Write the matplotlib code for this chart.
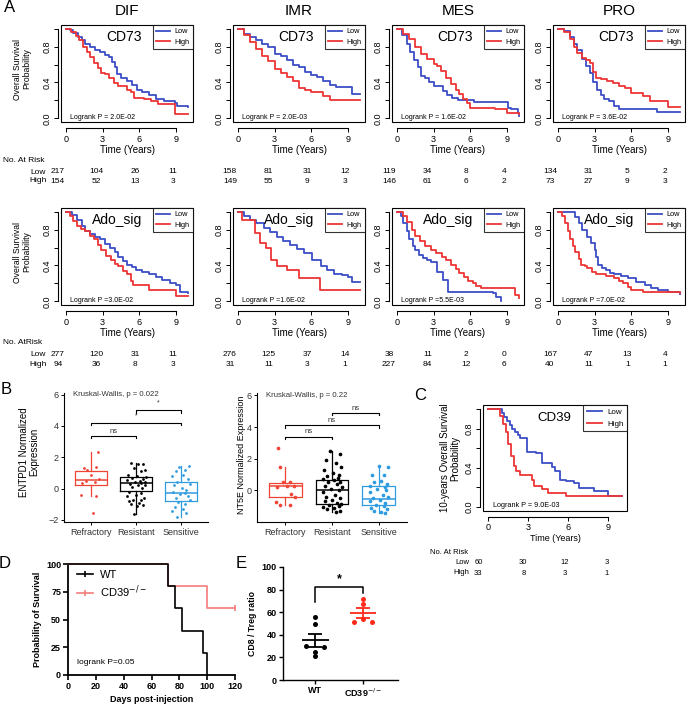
import matplotlib
matplotlib.use('Agg')
import matplotlib.pyplot as plt
import matplotlib.transforms as mtransforms
from matplotlib.patches import Rectangle
from matplotlib.lines import Line2D
import numpy as np

plt.rcParams['font.family'] = ['Liberation Sans', 'DejaVu Sans']
plt.rcParams['axes.linewidth'] = 0.8

W, H = 687, 705
BLUE = '#3C4EC6'
RED = '#EE3535'
SALMON = '#F47C7C'
E_RED = '#FF2A1A'

# ---------------- Panel A: KM curves, (years, survival) breakpoints ----------------
subtypes = ['DIF', 'IMR', 'MES', 'PRO']
risk_times = [0, 3, 6, 9]

dif_cd73_low = [(0, 1.0), (0.3, 0.98), (0.6, 0.95), (1.0, 0.91), (1.3, 0.87), (1.6, 0.83), (2.0, 0.79),
                (2.4, 0.76), (2.8, 0.74), (3.2, 0.71), (3.5, 0.68), (3.8, 0.63), (4.0, 0.57), (4.2, 0.49),
                (4.5, 0.45), (5.0, 0.42), (5.4, 0.37), (5.8, 0.32), (6.2, 0.29), (6.8, 0.26), (7.4, 0.22),
                (8.0, 0.19), (8.9, 0.175), (9.1, 0.14), (10, 0.13)]
dif_cd73_high = [(0, 1.0), (0.4, 0.96), (0.8, 0.92), (1.1, 0.87), (1.4, 0.80), (1.7, 0.74), (2.0, 0.68),
                 (2.3, 0.62), (2.6, 0.56), (2.9, 0.51), (3.2, 0.49), (3.5, 0.45), (3.9, 0.39), (4.3, 0.36),
                 (5.0, 0.32), (5.3, 0.29), (5.6, 0.23), (6.4, 0.22), (7.0, 0.19), (7.5, 0.165),
                 (8.8, 0.155), (8.9, 0.05), (10, 0.05)]
imr_cd73_low = [(0, 1.0), (0.5, 0.94), (1.0, 0.91), (1.5, 0.87), (2.0, 0.83), (2.5, 0.80), (3.0, 0.72),
                (3.5, 0.69), (4.0, 0.65), (4.5, 0.60), (5.0, 0.57), (5.5, 0.52), (6.0, 0.48), (6.5, 0.46),
                (7.0, 0.42), (7.5, 0.37), (8.0, 0.35), (9.2, 0.35), (9.3, 0.27), (10, 0.27)]
imr_cd73_high = [(0, 1.0), (0.5, 0.93), (1.0, 0.85), (1.5, 0.77), (2.0, 0.70), (2.5, 0.64), (3.0, 0.55),
                 (3.5, 0.51), (4.0, 0.46), (4.5, 0.42), (5.0, 0.34), (5.5, 0.32), (6.0, 0.29), (7.0, 0.25),
                 (7.5, 0.20), (10, 0.20)]
mes_cd73_low = [(0, 1.0), (0.4, 0.93), (0.8, 0.83), (1.1, 0.74), (1.4, 0.65), (1.7, 0.57), (2.0, 0.47),
                (2.3, 0.45), (2.6, 0.41), (3.0, 0.36), (3.5, 0.36), (3.8, 0.31), (4.1, 0.26), (4.5, 0.23),
                (5.0, 0.21), (6.1, 0.21), (6.3, 0.18), (9.0, 0.18), (9.1, 0.12), (9.3, 0.10), (9.9, 0.06),
                (10, 0.03)]
mes_cd73_high = [(0, 1.0), (0.5, 0.94), (1.0, 0.88), (1.5, 0.79), (2.0, 0.72), (2.5, 0.66), (3.0, 0.61),
                 (3.3, 0.58), (3.6, 0.53), (4.0, 0.45), (4.4, 0.38), (4.8, 0.32), (5.1, 0.27), (5.4, 0.22),
                 (5.7, 0.17), (6.0, 0.12), (8.0, 0.11), (9.0, 0.06), (10, 0.05)]
pro_cd73_low = [(0, 1.0), (0.5, 0.975), (1.0, 0.91), (1.3, 0.83), (1.6, 0.76), (2.0, 0.66), (2.3, 0.58),
                (2.6, 0.50), (2.9, 0.41), (3.2, 0.32), (3.5, 0.26), (3.8, 0.22), (4.2, 0.19), (4.6, 0.14),
                (5.0, 0.11), (5.5, 0.10), (8.0, 0.10), (8.1, 0.07), (10, 0.07)]
pro_cd73_high = [(0, 1.0), (0.5, 0.96), (1.0, 0.88), (1.3, 0.80), (1.6, 0.73), (2.0, 0.67), (2.3, 0.65),
                 (2.6, 0.62), (2.9, 0.52), (3.1, 0.45), (3.5, 0.44), (4.0, 0.42), (4.5, 0.39), (5.0, 0.36),
                 (5.5, 0.34), (6.0, 0.28), (7.0, 0.25), (7.5, 0.19), (9.0, 0.13), (10, 0.13)]

dif_ado_low = [(0, 1.0), (0.5, 0.96), (0.9, 0.91), (1.3, 0.84), (1.6, 0.78), (2.0, 0.75), (2.4, 0.72),
               (2.8, 0.69), (3.2, 0.64), (3.6, 0.59), (4.0, 0.55), (4.3, 0.50), (4.7, 0.45), (5.0, 0.41),
               (5.4, 0.38), (5.7, 0.35), (6.2, 0.33), (6.8, 0.30), (7.4, 0.27), (7.9, 0.24), (8.5, 0.21),
               (9.0, 0.18), (9.3, 0.11), (10, 0.09)]
dif_ado_high = [(0, 1.0), (0.3, 0.95), (0.6, 0.90), (0.9, 0.84), (1.2, 0.81), (1.6, 0.78), (2.0, 0.73),
                (2.3, 0.69), (2.6, 0.63), (2.9, 0.57), (3.3, 0.51), (3.7, 0.46), (4.0, 0.42), (4.3, 0.39),
                (4.7, 0.34), (5.0, 0.30), (5.3, 0.23), (5.5, 0.18), (6.4, 0.18), (6.8, 0.13), (9.0, 0.06),
                (10, 0.06)]
imr_ado_low = [(0, 1.0), (0.5, 0.95), (1.0, 0.91), (1.5, 0.87), (2.1, 0.82), (2.6, 0.77), (3.2, 0.72),
               (3.7, 0.67), (4.3, 0.63), (4.8, 0.58), (5.4, 0.54), (6.1, 0.46), (6.8, 0.39), (7.3, 0.35),
               (7.9, 0.31), (8.5, 0.29), (9.0, 0.27), (9.3, 0.22), (10, 0.22)]
imr_ado_high = [(0, 1.0), (0.3, 0.91), (1.2, 0.91), (1.4, 0.76), (1.8, 0.65), (2.3, 0.59), (2.7, 0.46),
                (3.2, 0.39), (4.0, 0.35), (5.0, 0.26), (6.6, 0.26), (6.7, 0.13), (10, 0.13)]
mes_ado_low = [(0, 1.0), (0.3, 0.95), (0.5, 0.87), (0.8, 0.78), (1.0, 0.70), (1.3, 0.62), (1.5, 0.57),
               (1.8, 0.52), (2.1, 0.48), (2.5, 0.46), (2.8, 0.44), (3.3, 0.33), (3.8, 0.24), (4.2, 0.11),
               (6.9, 0.11), (7.9, 0.09), (8.1, 0.05), (8.5, 0.0)]
mes_ado_high = [(0, 1.0), (0.5, 0.95), (0.8, 0.88), (1.2, 0.80), (1.5, 0.73), (1.9, 0.67), (2.3, 0.62),
                (2.8, 0.57), (3.2, 0.54), (3.7, 0.50), (4.0, 0.46), (4.4, 0.41), (4.8, 0.36), (5.1, 0.32),
                (5.5, 0.27), (5.8, 0.23), (6.2, 0.20), (6.5, 0.17), (6.9, 0.15), (9.3, 0.15), (9.7, 0.07),
                (10, 0.04)]
pro_ado_low = [(0, 1.0), (1.0, 0.99), (1.4, 0.94), (1.7, 0.87), (2.0, 0.80), (2.4, 0.72), (2.7, 0.65),
               (3.0, 0.57), (3.15, 0.49), (3.3, 0.41), (3.6, 0.37), (3.9, 0.35), (4.3, 0.32), (4.6, 0.30),
               (5.2, 0.28), (5.7, 0.26), (6.4, 0.22), (7.1, 0.18), (7.6, 0.15), (8.2, 0.13), (9.0, 0.11),
               (10, 0.08)]
pro_ado_high = [(0, 1.0), (0.3, 0.95), (0.6, 0.87), (0.8, 0.78), (1.0, 0.70), (1.2, 0.62), (1.4, 0.55),
                (1.7, 0.47), (1.9, 0.41), (2.2, 0.39), (2.4, 0.37), (2.8, 0.33), (3.1, 0.30), (3.9, 0.28),
                (4.6, 0.26), (5.0, 0.23), (5.3, 0.21), (5.7, 0.16), (6.0, 0.13), (7.0, 0.10), (10, 0.09)]

cd73_curves = [(dif_cd73_low, dif_cd73_high), (imr_cd73_low, imr_cd73_high),
               (mes_cd73_low, mes_cd73_high), (pro_cd73_low, pro_cd73_high)]
ado_curves = [(dif_ado_low, dif_ado_high), (imr_ado_low, imr_ado_high),
              (mes_ado_low, mes_ado_high), (pro_ado_low, pro_ado_high)]
cd73_pvals = ['2.0E-02', '2.0E-03', '1.6E-02', '3.6E-02']
ado_pvals = ['3.0E-02', '1.6E-02', '5.5E-03', '7.0E-02']

cd73_risk_low = [[217, 104, 26, 11], [158, 81, 31, 12], [119, 34, 8, 4], [134, 31, 5, 2]]
cd73_risk_high = [[154, 52, 13, 3], [149, 55, 9, 3], [146, 61, 6, 2], [73, 27, 9, 3]]
ado_risk_low = [[277, 120, 31, 11], [276, 125, 37, 14], [38, 11, 2, 0], [167, 47, 13, 4]]
ado_risk_high = [[94, 36, 8, 3], [31, 11, 3, 1], [227, 84, 12, 6], [40, 11, 1, 1]]

# ---------------- Panel B: expression by response ----------------
b_groups = ['Refractory', 'Resistant', 'Sensitive']
b_colors = ['#EE4537', '#000000', '#2F9BE0']

# box stats: (q1, median, q3, whisker low, whisker high)
entpd1_stats = [(0.2, 0.55, 1.15, -0.5, 2.35), (-0.15, 0.38, 0.75, -1.6, 1.65), (-0.8, -0.3, 0.45, -1.8, 1.45)]
nt5e_stats = [(-0.42, 0.27, 0.48, -0.9, 1.5), (-0.85, 0.0, 0.65, -1.35, 2.5), (-0.9, -0.55, 0.3, -1.4, 1.55)]

entpd1_ref = [2.35, 1.4, 1.3, 1.2, 0.9, 0.6, 0.5, 0.4, 0.35, -0.4, -0.5, -1.55]
entpd1_ref_dx = [0.15, 0.12, -0.15, -0.08, 0.0, 0.18, -0.12, 0.08, -0.2, -0.22, 0.12, 0.05]
entpd1_res = [1.65, 1.6, 1.55, 1.3, 1.2, 1.1, 0.9, 0.8, 0.75, 0.7, 0.6, 0.55, 0.5, 0.45, 0.4, 0.35, 0.3,
              0.25, 0.2, 0.1, 0.05, -0.2, -0.25, -0.4, -0.5, -0.6, -0.7, -0.75, -0.8, -0.9, -1.0, -1.05,
              -1.1, -1.6]
entpd1_res_dx = [-0.12, 0.05, 0.15, -0.05, 0.2, 0.1, -0.18, 0.02, 0.22, -0.1, 0.16, -0.2, 0.08, 0.19, -0.02,
                 0.12, -0.14, 0.2, 0.05, -0.08, 0.14, -0.16, 0.1, 0.0, -0.2, 0.18, -0.06, 0.1, -0.15, 0.06,
                 -0.12, 0.15, 0.02, -0.05]
entpd1_sens = [1.45, 1.4, 1.2, 1.1, 0.9, 0.8, 0.6, 0.45, 0.3, 0.2, 0.05, -0.1, -0.2, -0.3, -0.35, -0.5,
               -0.6, -0.7, -0.85, -1.0, -1.2, -1.3, -1.45, -1.55, -1.8]
entpd1_sens_dx = [0.18, -0.05, 0.1, -0.12, 0.05, -0.2, 0.15, -0.08, 0.2, -0.15, 0.02, 0.12, -0.18, 0.08,
                  -0.02, 0.16, -0.1, 0.2, -0.06, 0.1, -0.14, 0.05, -0.2, 0.12, -0.08]

nt5e_ref = [2.7, 1.5, 0.55, 0.5, 0.3, 0.25, 0.2, -0.2, -0.4, -0.75, -0.9, -0.9]
nt5e_ref_dx = [-0.15, -0.12, 0.1, -0.05, 0.18, 0.05, -0.18, 0.12, 0.2, -0.2, -0.12, 0.1]
nt5e_res = [2.5, 2.3, 1.9, 1.7, 1.5, 1.3, 1.1, 1.0, 0.9, 0.8, 0.7, 0.65, 0.55, 0.5, 0.4, 0.3, 0.2, 0.1,
            0.0, -0.1, -0.3, -0.4, -0.5, -0.6, -0.7, -0.8, -0.85, -0.9, -1.0, -1.05, -1.1, -1.2, -1.3, -1.35]
nt5e_res_dx = [-0.05, 0.18, -0.12, 0.08, 0.2, -0.18, 0.02, 0.15, -0.1, 0.12, -0.2, 0.05, 0.18, -0.08, 0.1,
               -0.15, 0.22, -0.02, 0.14, -0.2, 0.06, -0.12, 0.18, 0.0, -0.16, 0.1, 0.2, -0.06, 0.14, -0.2,
               0.04, -0.1, 0.16, 0.08]
nt5e_sens = [1.55, 1.5, 1.0, 0.95, 0.6, 0.5, 0.4, 0.3, 0.2, 0.1, 0.0, -0.1, -0.3, -0.4, -0.5, -0.6, -0.7,
             -0.8, -0.9, -1.0, -1.1, -1.2, -1.3, -1.35, -1.4]
nt5e_sens_dx = [0.0, 0.2, -0.15, 0.1, 0.05, -0.1, 0.18, -0.2, 0.12, -0.05, 0.15, -0.18, 0.08, 0.2, -0.12,
                0.02, -0.2, 0.14, -0.06, 0.1, -0.16, 0.18, -0.1, 0.05, 0.12]

# brackets: (group a, group b, height, label)
entpd1_brackets = [(1, 2, 3.35, 'ns'), (1, 3, 4.2, '*'), (2, 3, 5.0, '*')]
nt5e_brackets = [(1, 2, 3.4, 'ns'), (1, 3, 4.1, 'ns'), (2, 3, 4.9, 'ns')]

# ---------------- Panel C: CD39 KM ----------------
cd39_low = [(0, 1.0), (0.8, 1.0), (1.0, 0.96), (1.2, 0.92), (1.4, 0.88), (1.6, 0.84), (1.8, 0.80),
            (2.0, 0.77), (2.2, 0.73), (2.4, 0.70), (2.9, 0.56), (3.6, 0.55), (4.0, 0.45), (4.8, 0.41),
            (5.0, 0.37), (5.4, 0.28), (5.8, 0.27), (6.4, 0.25), (6.8, 0.19), (7.9, 0.16), (9.0, 0.11),
            (10, 0.11)]
cd39_high = [(0, 1.0), (0.7, 1.0), (0.9, 0.93), (1.1, 0.85), (1.3, 0.76), (1.5, 0.64), (1.7, 0.52),
             (1.9, 0.42), (2.1, 0.37), (2.4, 0.33), (3.3, 0.28), (3.4, 0.21), (4.0, 0.18), (4.5, 0.14),
             (5.8, 0.11), (10, 0.11)]
cd39_risk_low = [60, 30, 12, 3]
cd39_risk_high = [33, 8, 3, 1]

# ---------------- Panel D: mouse survival ----------------
wt_days = [0, 72, 77, 82, 97, 100]
wt_surv = [100, 80, 60, 40, 20, 0]
ko_days = [0, 72, 100, 120]
ko_surv = [100, 80, 60, 60]

# ---------------- Panel E: CD8/Treg ratio ----------------
e_groups = ['WT', r'CD39$^{-/-}$']
wt_ratio = [56, 50, 30, 29, 25, 21]
wt_ratio_dx = [0, 0, -0.19, 0.19, 0, 0]
ko_ratio = [72, 67, 51, 54, 51]
ko_ratio_dx = [0, 0, -0.19, 0, 0.19]

fig = plt.figure(figsize=(W / 100, H / 100), dpi=100)


def px_axes(left, top, width, height):
    return fig.add_axes([left / W, 1 - (top + height) / H, width / W, height / H])


def fig_text(x, y, s, **kw):
    fig.text(x / W, 1 - y / H, s, **kw)


def km_plot(ax, low, high, name, pval, name_fs=10, leg_fs=5.3, tick_fs=6.5, xlab_fs=7, p_fs=5):
    for curve, color, label in ((low, BLUE, 'Low'), (high, RED, 'High')):
        t, s = zip(*curve)
        ax.step(t, s, where='post', color=color, lw=1.3, label=label)
    ax.set_xlim(-0.4, 10.4)
    ax.set_ylim(-0.04, 1.04)
    ax.add_patch(Rectangle((0, 0), 1, 1, transform=ax.transAxes, fill=False, lw=0.8,
                           edgecolor='black', clip_on=False, zorder=6))
    ax.spines['top'].set_visible(False)
    ax.spines['right'].set_visible(False)
    ax.spines['bottom'].set_position(('outward', 4))
    ax.spines['bottom'].set_bounds(0, 9)
    ax.spines['left'].set_position(('outward', 2))
    ax.spines['left'].set_bounds(0, 1)
    ax.set_xticks(risk_times)
    ax.set_yticks([0, 0.2, 0.4, 0.6, 0.8, 1.0])
    ax.set_yticklabels(['0.0', '', '0.4', '', '0.8', ''], rotation=90, va='center')
    ax.tick_params(length=3, width=0.7, labelsize=tick_fs, pad=2)
    ax.set_xlabel('Time (Years)', fontsize=xlab_fs, labelpad=1)
    ax.text(0.615, 0.88, name, transform=ax.transAxes, ha='right', va='center', fontsize=name_fs)
    ax.text(0.07, 0.05, pval, transform=ax.transAxes, ha='left', va='center', fontsize=p_fs)
    leg = ax.legend(loc='upper right', fontsize=leg_fs, frameon=True, fancybox=False, edgecolor='black',
                    borderaxespad=0, handlelength=1.9, borderpad=0.45, labelspacing=0.45,
                    handletextpad=0.6)
    leg.get_frame().set_linewidth(0.8)
    leg.set_zorder(7)


def risk_rows(ax, low_n, high_n, y_low, y_high, shifts, fs=6):
    blend = mtransforms.blended_transform_factory(ax.transData, ax.transAxes)
    for t, nl, nh, dx in zip(risk_times, low_n, high_n, shifts):
        tr = blend + mtransforms.ScaledTranslation(dx / 100, 0, fig.dpi_scale_trans)
        ax.text(t, y_low, str(nl), transform=tr, ha='center', va='center', fontsize=fs)
        ax.text(t, y_high, str(nh), transform=tr, ha='center', va='center', fontsize=fs)


# ---- Panel A ----
col_left = [61, 233, 392, 553]
box_w, box_h = 132, 97
for i, sub in enumerate(subtypes):
    fig_text(col_left[i] + box_w / 2, 11, sub, ha='center', va='center', fontsize=11)

for row, (curves, pvals, rl, rh, top, hdr) in enumerate([
        (cd73_curves, cd73_pvals, cd73_risk_low, cd73_risk_high, 25, 'No. At Risk'),
        (ado_curves, ado_pvals, ado_risk_low, ado_risk_high, 208, 'No. AtRisk')]):
    name = 'CD73' if row == 0 else 'Ado_sig'
    for i in range(4):
        ax = px_axes(col_left[i], top, box_w, box_h)
        low, high = curves[i]
        km_plot(ax, low, high, name, 'Logrank P = ' + pvals[i] if row == 0 else 'Logrank P =' + pvals[i])
        risk_rows(ax, rl[i], rh[i], -0.51, -0.61, [-8, -6, -4, -3])
    fig_text(3, top + 135, hdr, ha='left', va='center', fontsize=6)
    fig_text(30, top + 147, 'Low', ha='left', va='center', fontsize=6)
    fig_text(29, top + 156, 'High', ha='left', va='center', fontsize=6)
    fig_text(22, top + 44, 'Overall Survival\nProbability', ha='center', va='center',
             rotation=90, fontsize=6.2, linespacing=1.1)

fig_text(10, 8, 'A', ha='center', va='center', fontsize=12)


# ---- Panel B ----
def box_panel(ax, stats, values, offsets, brackets, ylim, kw_text, pt_size):
    for i, (st, vals, dxs, c) in enumerate(zip(stats, values, offsets, b_colors)):
        pos = i + 1
        q1, med, q3, lo, hi = st
        ax.bxp([{'med': med, 'q1': q1, 'q3': q3, 'whislo': lo, 'whishi': hi}], positions=[pos],
               widths=0.7, showfliers=False, showcaps=False, patch_artist=False,
               boxprops=dict(color=c, lw=0.9), medianprops=dict(color=c, lw=1.1),
               whiskerprops=dict(color=c, lw=0.9))
        ax.scatter(pos + np.array(dxs), vals, s=pt_size, color=c, zorder=3, linewidths=0)
    for a, b, y, lab in brackets:
        ax.plot([a, a, b, b], [y - 0.15, y, y, y - 0.15], color='black', lw=0.8)
        ax.text((a + b) / 2, y + (0.08 if lab == 'ns' else 0.22), lab, ha='center', va='bottom',
                fontsize=5.5 if lab == 'ns' else 5, color='#333333')
    ax.text(0.6, 6.0, kw_text, ha='left', va='center', fontsize=5.6, color='#333333')
    ax.set_xlim(0.4, 3.6)
    ax.set_ylim(*ylim)
    ax.set_xticks([1, 2, 3])
    ax.set_xticklabels(b_groups)
    ax.set_yticks([-2, 0, 2, 4, 6])
    for sp in ['top', 'right']:
        ax.spines[sp].set_visible(False)
    ax.tick_params(length=2.5, width=0.7, labelsize=6.5, pad=1.5, colors='#333333')
    ax.tick_params(axis='both', color='black')


axb1 = px_axes(64, 393, 144, 129)
box_panel(axb1, entpd1_stats, [entpd1_ref, entpd1_res, entpd1_sens],
          [entpd1_ref_dx, entpd1_res_dx, entpd1_sens_dx], entpd1_brackets, (-2.13, 6.1),
          'Kruskal-Wallis, p = 0.022', 4)
fig_text(29, 452, 'ENTPD1 Normalized\nExpression', ha='center', va='center', rotation=90, fontsize=7,
         linespacing=1.0)

axb2 = px_axes(257, 393, 150, 129)
box_panel(axb2, nt5e_stats, [nt5e_ref, nt5e_res, nt5e_sens],
          [nt5e_ref_dx, nt5e_res_dx, nt5e_sens_dx], nt5e_brackets, (-1.78, 6.15),
          'Kruskal-Wallis, p = 0.22', 7)
axb2.set_yticks([0, 2, 4, 6])
fig_text(242, 455, 'NT5E Normalized Expression', ha='center', va='center', rotation=90, fontsize=6.5)
fig_text(6, 389, 'B', ha='center', va='center', fontsize=12)

# ---- Panel C ----
axc = px_axes(483, 405, 144, 106)
km_plot(axc, cd39_low, cd39_high, 'CD39', 'Logrank P = 9.0E-03', name_fs=9.5, leg_fs=5.8, tick_fs=6.5,
        xlab_fs=6.5, p_fs=5.2)
risk_rows(axc, cd39_risk_low, cd39_risk_high, -0.49, -0.585, [-10, -5, -4, -2], fs=5.5)
fig_text(430, 553, 'No. At Risk', ha='left', va='center', fontsize=5.5)
fig_text(455, 563, 'Low', ha='left', va='center', fontsize=5.5)
fig_text(453, 573, 'High', ha='left', va='center', fontsize=5.5)
fig_text(450, 458, '10-years Overall Survival\nProbability', ha='center', va='center', rotation=90,
         fontsize=7, linespacing=1.0)
fig_text(420, 396, 'C', ha='center', va='center', fontsize=12)

# ---- Panel D ----
axd = px_axes(68, 564, 167, 111)
axd.step(wt_days, wt_surv, where='post', color='black', lw=1.2, clip_on=False, zorder=4)
axd.step(ko_days, ko_surv, where='post', color=SALMON, lw=1.2, clip_on=False, zorder=3)
axd.plot(ko_days[-1], ko_surv[-1], marker='|', ms=4, mew=1.2, color=SALMON, clip_on=False)
axd.set_xlim(0, 120)
axd.set_ylim(0, 100)
axd.set_xticks(range(0, 121, 20))
axd.set_yticks([0, 25, 50, 75, 100])
for sp in ['top', 'right']:
    axd.spines[sp].set_visible(False)
for sp in ['left', 'bottom']:
    axd.spines[sp].set_linewidth(1.3)
axd.tick_params(length=3.5, width=1.2, labelsize=6.5, pad=1.5)
for lab in axd.get_xticklabels() + axd.get_yticklabels():
    lab.set_fontweight('bold')
axd.set_xlabel('Days post-injection', fontsize=6.5, fontweight='bold', labelpad=3)
axd.set_ylabel('Probability of Survival', fontsize=6.5, fontweight='bold', labelpad=3)
handles = [Line2D([], [], color='black', lw=1.2, marker='|', ms=4, mew=1.2),
           Line2D([], [], color=SALMON, lw=1.2, marker='|', ms=4, mew=1.2)]
axd.legend(handles, ['WT', r'CD39$^{-/-}$'], loc='upper left', bbox_to_anchor=(0.03, 0.99), frameon=False,
           fontsize=8, handlelength=1.4, handletextpad=0.6, labelspacing=0.35, borderaxespad=0)
axd.text(0.055, 0.11, 'logrank P=0.05', transform=axd.transAxes, fontsize=6, va='center')
fig_text(5, 563, 'D', ha='center', va='center', fontsize=12)

# ---- Panel E ----
axe = px_axes(283, 567, 115, 113)
for pos, vals, dxs, c in ((0, wt_ratio, wt_ratio_dx, 'black'), (1, ko_ratio, ko_ratio_dx, E_RED)):
    vals = np.array(vals, dtype=float)
    axe.scatter(pos + np.array(dxs), vals, s=13, color=c, zorder=3, linewidths=0)
    m = vals.mean()
    sem = vals.std(ddof=1) / np.sqrt(len(vals))
    axe.hlines(m, pos - 0.28, pos + 0.28, color=c, lw=1.3)
    axe.vlines(pos, m - sem, m + sem, color=c, lw=1.3)
    axe.hlines([m - sem, m + sem], pos - 0.15, pos + 0.15, color=c, lw=1.3)
axe.plot([0, 0, 1, 1], [69, 82, 82, 77], color='black', lw=1.1)
axe.text(0.5, 84, '*', ha='center', va='bottom', fontsize=9, fontweight='bold')
axe.set_xlim(-0.67, 1.73)
axe.set_ylim(0, 100)
axe.set_xticks([0, 1])
axe.set_xticklabels(e_groups)
axe.set_yticks(range(0, 101, 20))
for sp in ['top', 'right']:
    axe.spines[sp].set_visible(False)
for sp in ['left', 'bottom']:
    axe.spines[sp].set_linewidth(1.0)
axe.tick_params(length=3, width=1.0, labelsize=6.5, pad=1.5)
for lab in axe.get_xticklabels() + axe.get_yticklabels():
    lab.set_fontweight('bold')
axe.set_ylabel('CD8 / Treg ratio', fontsize=6.3, fontweight='bold', labelpad=3)
fig_text(241, 564, 'E', ha='center', va='center', fontsize=12)

fig.savefig('out.png', dpi=100)
